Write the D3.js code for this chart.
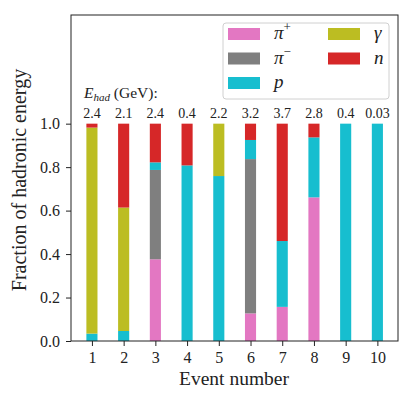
<!DOCTYPE html>
<html>
<head>
<meta charset="utf-8">
<script src="https://cdn.jsdelivr.net/npm/d3@7/dist/d3.min.js"></script>
<style>
  body { margin: 0; background: #fff; }
  text { font-family: "Liberation Serif", "DejaVu Serif", serif; fill: #222; }
</style>
</head>
<body>
<div id="chart"></div>
<script>
// ── Data (fractions) ───────────────────────────────────────────
const EVENTS = [1, 2, 3, 4, 5, 6, 7, 8, 9, 10];
const ENERGY = ["2.4", "2.1", "2.4", "0.4", "2.2", "3.2", "3.7", "2.8", "0.4", "0.03"];
const PIPLUS  = [0,     0,     0.376, 0,     0,     0.127, 0.157, 0.661, 0, 0];
const PIMINUS = [0,     0,     0.411, 0,     0,     0.710, 0,     0,     0, 0];
const PROTON  = [0.034, 0.046, 0.035, 0.808, 0.759, 0.088, 0.303, 0.276, 1, 1];
const GAMMA   = [0.948, 0.568, 0,     0,     0.241, 0,     0,     0,     0, 0];
const NEUTRON = [0.018, 0.386, 0.178, 0.192, 0,     0.075, 0.540, 0.063, 0, 0];
const Y_TICKS = [0, 0.2, 0.4, 0.6, 0.8, 1.0];

const SERIES = [
    { key: "pip", vals: PIPLUS,  color: "#e377c2", sym: "π", sup: "+" },
    { key: "pim", vals: PIMINUS, color: "#7f7f7f", sym: "π", sup: "−" },
    { key: "p",   vals: PROTON,  color: "#17becf", sym: "p" },
    { key: "g",   vals: GAMMA,   color: "#bcbd22", sym: "γ" },
    { key: "n",   vals: NEUTRON, color: "#d62728", sym: "n" }
];

// ── Dimensions ────────────────────────────────────────────────
const W = 415, H = 395;
const M = { left: 71, right: 398, top: 15, bottom: 341 };

const svg = d3.select("#chart").append("svg")
    .attr("width", W).attr("height", H);

const x = d3.scaleLinear().domain([0.34, 10.65]).range([M.left, M.right]);
const y = d3.scaleLinear().domain([0, 1.5]).range([M.bottom, M.top]);
const barW = x(1.35) - x(1);

// ── Stacked bars ──────────────────────────────────────────────
const rows = EVENTS.map((e, i) => {
    const r = { event: e };
    SERIES.forEach(s => r[s.key] = s.vals[i]);
    return r;
});
const stack = d3.stack().keys(SERIES.map(s => s.key))(rows);

svg.append("g").selectAll("g")
    .data(stack)
    .join("g")
    .attr("fill", (d, i) => SERIES[i].color)
    .selectAll("rect")
    .data(d => d)
    .join("rect")
    .attr("x", d => x(d.data.event) - barW / 2)
    .attr("width", barW)
    .attr("y", d => y(d[1]))
    .attr("height", d => y(d[0]) - y(d[1]));

// ── Axes ──────────────────────────────────────────────────────
const yAxis = svg.append("g")
    .attr("transform", `translate(${M.left},0)`)
    .call(d3.axisLeft(y).tickValues(Y_TICKS).tickFormat(d3.format(".1f")).tickSize(5).tickPadding(6));
const xAxis = svg.append("g")
    .attr("transform", `translate(0,${M.bottom})`)
    .call(d3.axisBottom(x).tickValues(EVENTS).tickFormat(d3.format("d")).tickSize(5).tickPadding(6));

[yAxis, xAxis].forEach(a => {
    a.select(".domain").remove();
    a.selectAll(".tick line").attr("stroke", "#222").attr("stroke-width", 1);
    a.selectAll(".tick text").style("font-size", "16px")
        .style("font-family", "'Liberation Serif', serif").attr("fill", "#222");
});

svg.append("rect")
    .attr("x", M.left).attr("y", M.top)
    .attr("width", M.right - M.left).attr("height", M.bottom - M.top)
    .attr("fill", "none").attr("stroke", "#222").attr("stroke-width", 1);

svg.append("text")
    .attr("x", (M.left + M.right) / 2 - 0.5).attr("y", 385)
    .attr("text-anchor", "middle")
    .style("font-size", "19.5px")
    .text("Event number");

svg.append("text")
    .attr("transform", "translate(26,180) rotate(-90)")
    .attr("text-anchor", "middle")
    .style("font-size", "20px")
    .text("Fraction of hadronic energy");

// ── Energy annotations ────────────────────────────────────────
svg.append("g").selectAll("text")
    .data(EVENTS)
    .join("text")
    .attr("x", d => x(d))
    .attr("y", y(1) - 5.5)
    .attr("text-anchor", "middle")
    .style("font-size", "14px")
    .text((d, i) => ENERGY[i]);

const eh = svg.append("text")
    .attr("x", 84).attr("y", 98)
    .style("font-size", "15.5px");
eh.append("tspan").style("font-style", "italic").text("E");
eh.append("tspan").style("font-style", "italic").style("font-size", "11px")
    .attr("dy", 3).text("had");
eh.append("tspan").attr("dy", -3).text(" (GeV):");

// ── Legend ────────────────────────────────────────────────────
const lg = svg.append("g");
lg.append("rect")
    .attr("x", 223).attr("y", 23).attr("width", 166).attr("height", 76)
    .attr("rx", 3).attr("fill", "#fff").attr("fill-opacity", 0.85)
    .attr("stroke", "#d0d0d0");

const cols = [[0, 1, 2], [3, 4]];
cols.forEach((col, c) => {
    col.forEach((si, r) => {
        const s = SERIES[si];
        const px = c === 0 ? 228 : 328;
        const cy = 34 + r * 24.5;
        lg.append("rect")
            .attr("x", px).attr("y", cy - 6)
            .attr("width", 32).attr("height", 12)
            .attr("fill", s.color);
        const t = lg.append("text")
            .attr("x", px + 46).attr("y", cy + 5)
            .style("font-size", "19px").style("font-style", "italic")
            .text(s.sym);
        if (s.sup) {
            t.append("tspan").attr("dy", -8).style("font-size", "13px")
                .style("font-style", "normal").text(s.sup);
        }
    });
});
</script>
</body>
</html>
